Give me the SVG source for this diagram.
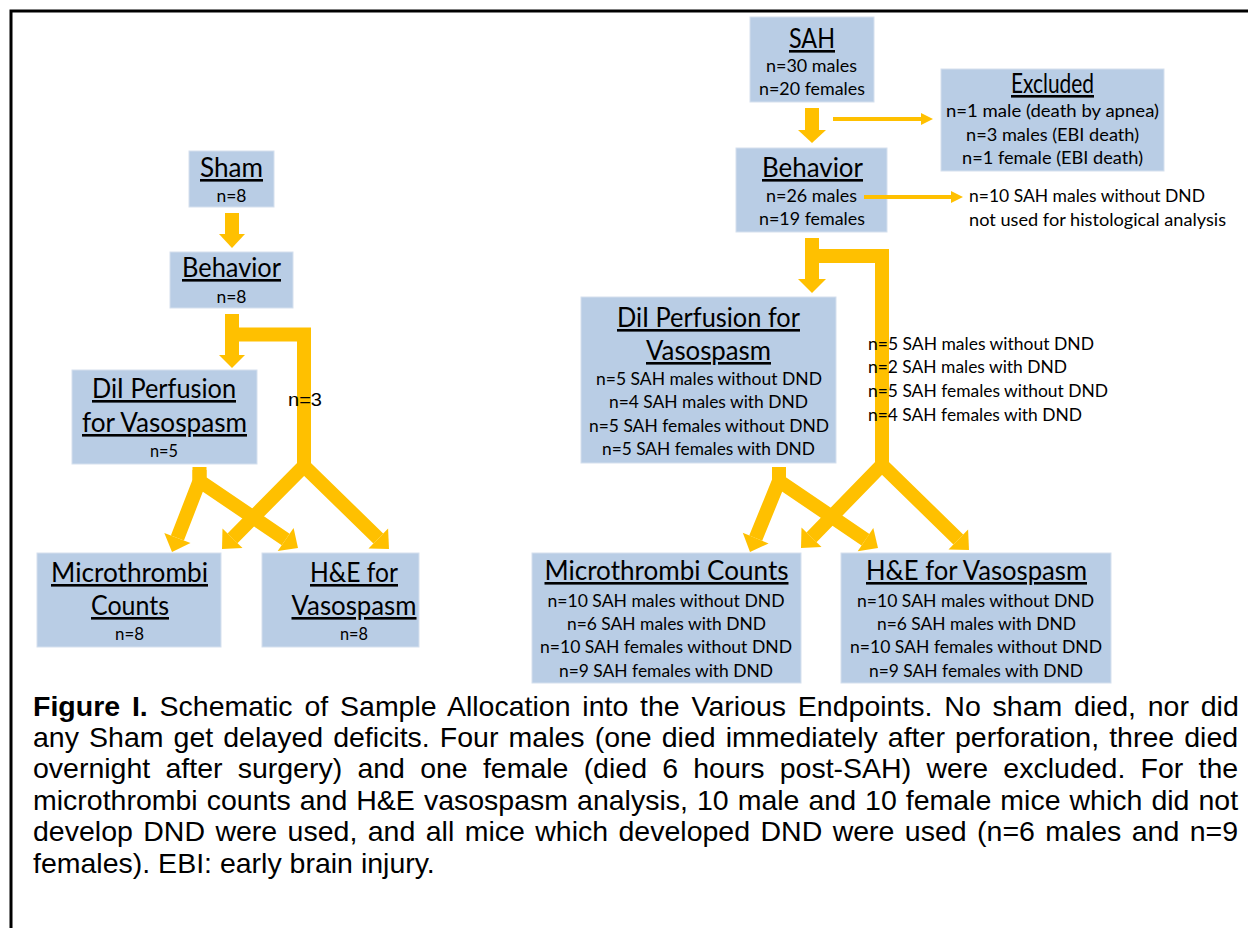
<svg xmlns="http://www.w3.org/2000/svg" width="1248" height="928" viewBox="0 0 1248 928">
<style>
.bx{fill:#B9CDE5;stroke:#D5E0EE;stroke-width:1}
.tt{font-family:Lato,"Open Sans",sans-serif;font-size:26px;text-decoration:underline;text-anchor:middle;fill:#000}
.sm{font-family:Lato,"Open Sans",sans-serif;font-size:18px;text-anchor:middle;fill:#000}
.lb{font-family:Lato,"Open Sans",sans-serif;font-size:18px;fill:#000}
.cap{font-family:"Liberation Sans",Arial,sans-serif;font-size:28.5px;fill:#000}
.thick{fill:none;stroke:#FFC000;stroke-width:14;stroke-linejoin:miter}
.thin{fill:none;stroke:#FFC000;stroke-width:4}
.hd{fill:#FFC000}
</style>
<rect width="1248" height="928" fill="#fff"/>
<path d="M11,928 L11,11 L1248,11" fill="none" stroke="#000" stroke-width="3"/>

<g id="sham">
<rect class="bx" x="189" y="151" width="85" height="56"/>
<text class="tt" x="231.5" y="177" textLength="63" lengthAdjust="spacingAndGlyphs">Sham</text>
<text class="sm" x="231.5" y="202" textLength="30" lengthAdjust="spacingAndGlyphs">n=8</text>
</g>
<g id="behavior-sham">
<rect class="bx" x="170" y="252" width="123" height="56"/>
<text class="tt" x="231.5" y="277" textLength="99" lengthAdjust="spacingAndGlyphs">Behavior</text>
<text class="sm" x="231.5" y="303" textLength="30" lengthAdjust="spacingAndGlyphs">n=8</text>
</g>
<g id="dil-sham">
<rect class="bx" x="72" y="370" width="185" height="94"/>
<text class="tt" x="164" y="398" textLength="144" lengthAdjust="spacingAndGlyphs">DiI Perfusion</text>
<text class="tt" x="164.5" y="432" textLength="165" lengthAdjust="spacingAndGlyphs">for Vasospasm</text>
<text class="sm" x="164" y="457" textLength="28" lengthAdjust="spacingAndGlyphs">n=5</text>
</g>
<g id="micro-sham">
<rect class="bx" x="37" y="553" width="184" height="94"/>
<text class="tt" x="129.5" y="582" textLength="157" lengthAdjust="spacingAndGlyphs">Microthrombi</text>
<text class="tt" x="130" y="615" textLength="78" lengthAdjust="spacingAndGlyphs">Counts</text>
<text class="sm" x="129.5" y="640" textLength="29" lengthAdjust="spacingAndGlyphs">n=8</text>
</g>
<g id="he-sham">
<rect class="bx" x="262" y="553" width="157" height="94"/>
<text class="tt" x="354" y="582" textLength="88" lengthAdjust="spacingAndGlyphs">H&amp;E for</text>
<text class="tt" x="354" y="615" textLength="125" lengthAdjust="spacingAndGlyphs">Vasospasm</text>
<text class="sm" x="354" y="640" textLength="28" lengthAdjust="spacingAndGlyphs">n=8</text>
</g>

<g id="sah">
<rect class="bx" x="750" y="17" width="124" height="85"/>
<text class="tt" x="812" y="48" textLength="46" lengthAdjust="spacingAndGlyphs">SAH</text>
<text class="sm" x="811.5" y="72" textLength="91" lengthAdjust="spacingAndGlyphs">n=30 males</text>
<text class="sm" x="812" y="95" textLength="106" lengthAdjust="spacingAndGlyphs">n=20 females</text>
</g>
<g id="excluded">
<rect class="bx" x="941" y="69" width="223" height="102"/>
<text class="tt" x="1052.5" y="93" textLength="83" lengthAdjust="spacingAndGlyphs">Excluded</text>
<text class="sm" x="1052.5" y="117" textLength="213" lengthAdjust="spacingAndGlyphs">n=1 male (death by apnea)</text>
<text class="sm" x="1052.5" y="141" textLength="173" lengthAdjust="spacingAndGlyphs">n=3 males (EBI death)</text>
<text class="sm" x="1052.5" y="164" textLength="181" lengthAdjust="spacingAndGlyphs">n=1 female (EBI death)</text>
</g>
<g id="behavior-sah">
<rect class="bx" x="736" y="148" width="151" height="84"/>
<text class="tt" x="812.5" y="177" textLength="101" lengthAdjust="spacingAndGlyphs">Behavior</text>
<text class="sm" x="811.5" y="202" textLength="91" lengthAdjust="spacingAndGlyphs">n=26 males</text>
<text class="sm" x="812" y="225" textLength="106" lengthAdjust="spacingAndGlyphs">n=19 females</text>
</g>
<g id="not-used">
<text class="lb" x="969" y="202" textLength="236" lengthAdjust="spacingAndGlyphs">n=10 SAH males without DND</text>
<text class="lb" x="969" y="226" textLength="257" lengthAdjust="spacingAndGlyphs">not used for histological analysis</text>
</g>
<g id="dil-sah">
<rect class="bx" x="581" y="297" width="255" height="166"/>
<text class="tt" x="708.5" y="327" textLength="183" lengthAdjust="spacingAndGlyphs">DiI Perfusion for</text>
<text class="tt" x="708.5" y="360" textLength="125" lengthAdjust="spacingAndGlyphs">Vasospasm</text>
<text class="sm" x="709" y="385" textLength="226" lengthAdjust="spacingAndGlyphs">n=5 SAH males without DND</text>
<text class="sm" x="708.5" y="408" textLength="199" lengthAdjust="spacingAndGlyphs">n=4 SAH males with DND</text>
<text class="sm" x="709" y="432" textLength="240" lengthAdjust="spacingAndGlyphs">n=5 SAH females without DND</text>
<text class="sm" x="708.5" y="455" textLength="213" lengthAdjust="spacingAndGlyphs">n=5 SAH females with DND</text>
</g>
<g id="micro-sah">
<rect class="bx" x="532" y="553" width="269" height="130"/>
<text class="tt" x="666.5" y="580" textLength="244" lengthAdjust="spacingAndGlyphs">Microthrombi Counts</text>
<text class="sm" x="666" y="607" textLength="237" lengthAdjust="spacingAndGlyphs">n=10 SAH males without DND</text>
<text class="sm" x="666.5" y="630" textLength="199" lengthAdjust="spacingAndGlyphs">n=6 SAH males with DND</text>
<text class="sm" x="666" y="653" textLength="252" lengthAdjust="spacingAndGlyphs">n=10 SAH females without DND</text>
<text class="sm" x="666" y="677" textLength="214" lengthAdjust="spacingAndGlyphs">n=9 SAH females with DND</text>
</g>
<g id="he-sah">
<rect class="bx" x="841" y="553" width="270" height="130"/>
<text class="tt" x="976.5" y="580" textLength="221" lengthAdjust="spacingAndGlyphs">H&amp;E for Vasospasm</text>
<text class="sm" x="975.5" y="607" textLength="237" lengthAdjust="spacingAndGlyphs">n=10 SAH males without DND</text>
<text class="sm" x="976.5" y="630" textLength="199" lengthAdjust="spacingAndGlyphs">n=6 SAH males with DND</text>
<text class="sm" x="976" y="653" textLength="252" lengthAdjust="spacingAndGlyphs">n=10 SAH females without DND</text>
<text class="sm" x="976" y="677" textLength="214" lengthAdjust="spacingAndGlyphs">n=9 SAH females with DND</text>
</g>

<g id="connectors">
<path class="thick" d="M232,213 L232,235"/>
<polygon class="hd" points="219,234 245,234 232,248"/>
<path class="thick" d="M232,314 L232,356"/>
<polygon class="hd" points="219,355 245,355 232,368"/>
<path class="thick" d="M232,334.5 L304,334.5 L304,466 L232.5,538.3"/>
<path class="thick" d="M304,440 L304,466 L378.3,538.5"/>
<polygon class="hd" points="222.5,528.5 242.5,548.1 222,549"/>
<polygon class="hd" points="368.5,548.5 388.1,528.5 389,549"/>
<path class="thick" d="M199.5,467 L199.5,481 L177.4,538"/>
<path class="thick" d="M199.5,470 L199.5,481 L285.7,539.5"/>
<polygon class="hd" points="164.3,533 190.5,543 172,552"/>
<polygon class="hd" points="277.7,551 293.6,528 298,548"/>

<path class="thick" d="M812,108 L812,131"/>
<polygon class="hd" points="798,130 826,130 812,143"/>
<path class="thin" d="M833,119 L923,119"/>
<polygon class="hd" points="921,113 933,119 921,125"/>
<path class="thin" d="M864,197 L953,197"/>
<polygon class="hd" points="951,191 963,197 951,203"/>
<path class="thick" d="M812,238 L812,280"/>
<polygon class="hd" points="798,279 826,279 812,293"/>
<path class="thick" d="M812,256 L882,256 L882,465 L811.5,537.3"/>
<path class="thick" d="M882,440 L882,465 L958.3,539.5"/>
<polygon class="hd" points="801.5,527.5 821.5,547.1 801,548"/>
<polygon class="hd" points="948.5,549.5 968.1,529.5 969,550"/>
<path class="thick" d="M779,467 L779,481 L755.7,538.1"/>
<path class="thick" d="M779,470 L779,481 L865.5,539.7"/>
<polygon class="hd" points="742.8,532.7 768.6,543.5 750,552"/>
<polygon class="hd" points="857.7,551.3 873.3,528.1 878,548"/>

<text x="288" y="406" font-family="Liberation Sans, Arial, sans-serif" font-size="19" textLength="34" lengthAdjust="spacingAndGlyphs">n=3</text>
<text class="lb" x="868" y="350" textLength="226" lengthAdjust="spacingAndGlyphs">n=5 SAH males without DND</text>
<text class="lb" x="868" y="373" textLength="199" lengthAdjust="spacingAndGlyphs">n=2 SAH males with DND</text>
<text class="lb" x="868" y="397" textLength="240" lengthAdjust="spacingAndGlyphs">n=5 SAH females without DND</text>
<text class="lb" x="868" y="421" textLength="214" lengthAdjust="spacingAndGlyphs">n=4 SAH females with DND</text>
</g>

<g id="caption">
<text class="cap" x="33" y="716" word-spacing="3.9"><tspan font-weight="bold">Figure I.</tspan> Schematic of Sample Allocation into the Various Endpoints. No sham died, nor did</text>
<text class="cap" x="33" y="747" word-spacing="2.16">any Sham get delayed deficits. Four males (one died immediately after perforation, three died</text>
<text class="cap" x="33" y="778" word-spacing="7.28">overnight after surgery) and one female (died 6 hours post-SAH) were excluded. For the</text>
<text class="cap" x="33" y="810" word-spacing="1.1">microthrombi counts and H&amp;E vasospasm analysis, 10 male and 10 female mice which did not</text>
<text class="cap" x="33" y="841" word-spacing="2.5">develop DND were used, and all mice which developed DND were used (n=6 males and n=9</text>
<text class="cap" x="33" y="873">females). EBI: early brain injury.</text>
</g>
</svg>
